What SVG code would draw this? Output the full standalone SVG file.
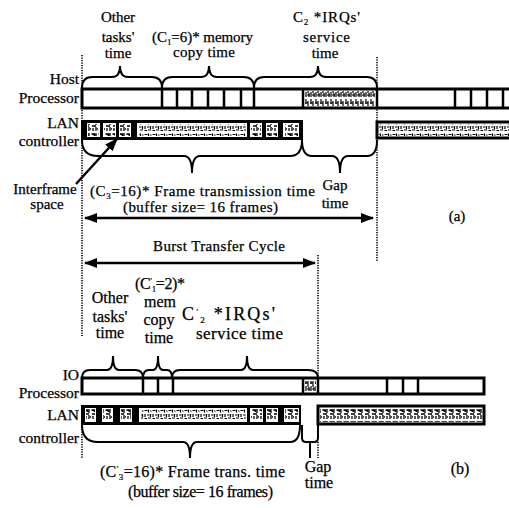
<svg xmlns="http://www.w3.org/2000/svg" width="509" height="508" viewBox="0 0 509 508">
<style>
text{font-family:"Liberation Serif","Times New Roman",serif;font-size:15px;fill:#000;stroke:#000;stroke-width:0.25}
.b{font-size:16px}
.bb{font-size:17px}
.bc{font-size:18px}
.m{text-anchor:middle}
.r{text-anchor:end;font-size:15.5px}
.sub{font-size:9px;stroke-width:0.2}
.bar{fill:#fff;stroke:#000;stroke-width:3}
.blk{fill:#000}
.fr{fill:#fff}
.div{stroke:#000;stroke-width:2.5}
.br{fill:none;stroke:#000;stroke-width:2}
.dot{stroke:#000;stroke-width:1.6;stroke-dasharray:1.2 1.3}
.arr{stroke:#000;stroke-width:2.5}
</style>
<defs>
<pattern id="scr" width="8" height="12" patternUnits="userSpaceOnUse">
<path d="M0.5,2.5h3M4.5,1.5v3M6,3h1.5M1,6v3M3,7h2.5M6.5,6v3M0.5,10.5h2.5M4,10h3" stroke="#000" stroke-width="1.2"/>
</pattern>
<pattern id="scr2" width="7" height="12" patternUnits="userSpaceOnUse">
<path d="M0.5,2h3v2M5,1v4M1,6h4M2,8v3M5,7v4M6,9h1" stroke="#000" stroke-width="1.3"/>
</pattern>
<pattern id="irq" width="5" height="14" patternUnits="userSpaceOnUse">
<path d="M1,1v5M3,3v6M1,8v5M4,9v4M0,5h3M2,11h3" stroke="#000" stroke-width="1.2"/>
</pattern>
<marker id="ah" markerWidth="13" markerHeight="10" refX="12" refY="5" orient="auto" markerUnits="userSpaceOnUse">
<path d="M0,0L13,5L0,10z" fill="#000"/>
</marker>
<marker id="ahs" markerWidth="13" markerHeight="10" refX="12" refY="5" orient="auto-start-reverse" markerUnits="userSpaceOnUse">
<path d="M0,0L13,5L0,10z" fill="#000"/>
</marker>
</defs>

<!-- Part (a) -->
<g id="labels-a">
<text x="118" y="22" class="m">Other</text>
<text x="118" y="42" class="m">tasks'</text>
<text x="118" y="58" class="m">time</text>
<text x="152" y="42" textLength="101" lengthAdjust="spacing">(C<tspan class="sub" dy="3">1</tspan><tspan dy="-3">=6)* memory</tspan></text>
<text x="173" y="57" textLength="62" lengthAdjust="spacing">copy time</text>
<text x="293" y="22" textLength="67" lengthAdjust="spacing">C<tspan class="sub" dy="3">2</tspan><tspan dy="-3"> *IRQs'</tspan></text>
<text x="303" y="42" textLength="47" lengthAdjust="spacing">service</text>
<text x="325" y="58" class="m">time</text>
<text x="79" y="84" class="r">Host</text>
<text x="79" y="103" class="r">Processor</text>
<text x="79" y="128" class="r">LAN</text>
<text x="79" y="146" class="r">controller</text>
<text x="45" y="194" class="m">Interframe</text>
<text x="47" y="209" class="m">space</text>
<text x="90" y="196" textLength="225" lengthAdjust="spacing">(C<tspan class="sub" dy="3">3</tspan><tspan dy="-3">=16)* Frame transmission time</tspan></text>
<text x="335" y="190" class="m">Gap</text>
<text x="335" y="208" class="m">time</text>
<text x="123" y="212" textLength="155" lengthAdjust="spacing">(buffer size= 16 frames)</text>
<text x="457" y="221" class="m">(a)</text>
<text x="153" y="251" textLength="132" lengthAdjust="spacing">Burst Transfer Cycle</text>
</g>

<g id="host-a">
<rect class="bar" x="82" y="89" width="430" height="19"/>
<rect x="305" y="91" width="70" height="15" fill="url(#irq)"/>
<path class="div" d="M162,89v19M177,89v19M192,89v19M208,89v19M224,89v19M241,89v19M254,89v19M303,89v19M377,89v19M455,89v19M471,89v19M487,89v19M503,89v19"/>
</g>

<g id="lan-a">
<rect class="blk" x="81" y="120" width="222" height="20"/>
<rect class="fr" x="87" y="123" width="13" height="14"/>
<rect class="fr" x="103" y="123" width="13" height="14"/>
<rect class="fr" x="119" y="123" width="12" height="14"/>
<rect class="fr" x="137" y="123" width="110" height="14"/>
<rect class="fr" x="250" y="123" width="12" height="14"/>
<rect class="fr" x="266" y="123" width="12" height="14"/>
<rect class="fr" x="283" y="123" width="16" height="14"/>
<rect x="88" y="124" width="11" height="12" fill="url(#scr2)"/>
<rect x="104" y="124" width="11" height="12" fill="url(#scr2)"/>
<rect x="120" y="124" width="10" height="12" fill="url(#scr2)"/>
<rect x="139" y="124" width="107" height="12" fill="url(#scr)"/>
<rect x="251" y="124" width="10" height="12" fill="url(#scr2)"/>
<rect x="267" y="124" width="10" height="12" fill="url(#scr2)"/>
<rect x="285" y="124" width="13" height="12" fill="url(#scr2)"/>
</g>

<g id="lan-a2">
<rect class="bar" x="377" y="122" width="135" height="16"/>
<rect x="379" y="124" width="130" height="12" fill="url(#scr)"/>
</g>

<!-- Part (b) -->
<g id="labels-b">
<text x="160" y="289" class="m b" textLength="50" lengthAdjust="spacing">(C<tspan class="sub" dy="-5">′</tspan><tspan class="sub" dy="8">1</tspan><tspan dy="-3">=2)*</tspan></text>
<text x="160" y="307" class="m b">mem</text>
<text x="159" y="325" class="m b">copy</text>
<text x="159" y="343" class="m b">time</text>
<text x="110" y="303" class="m b">Other</text>
<text x="110" y="322" class="m b">tasks'</text>
<text x="110" y="338" class="m b">time</text>
<text x="182" y="320" class="bc" textLength="93" lengthAdjust="spacing">C<tspan class="sub" dy="-5">′</tspan><tspan class="sub" dy="8">2</tspan><tspan dy="-3"> *IRQs'</tspan></text>
<text x="196" y="339" class="bb" textLength="87" lengthAdjust="spacing">service time</text>
<text x="79" y="380" class="r">IO</text>
<text x="79" y="398" class="r">Processor</text>
<text x="79" y="420" class="r">LAN</text>
<text x="79" y="443" class="r">controller</text>
<text x="100" y="477" class="b" textLength="185" lengthAdjust="spacing">(C<tspan class="sub" dy="-5">′</tspan><tspan class="sub" dy="8">3</tspan><tspan dy="-3">=16)* Frame trans. time</tspan></text>
<text x="128" y="497" class="b" textLength="145" lengthAdjust="spacing">(buffer size= 16 frames)</text>
<text x="318" y="472" class="m b">Gap</text>
<text x="319" y="488" class="m b">time</text>
<text x="460" y="474" class="m b">(b)</text>
</g>

<g id="io-b">
<rect class="bar" x="82" y="378" width="402" height="16"/>
<rect x="305" y="381" width="11" height="10" fill="url(#irq)"/>
<path class="div" d="M143,378v16M158,378v16M173,378v16M303,378v16M318,378v16M387,378v16M403,378v16M418,378v16"/>
</g>

<g id="lan-b">
<rect class="blk" x="81" y="405" width="220" height="20"/>
<rect class="fr" x="85" y="408" width="11" height="14"/>
<rect class="fr" x="102" y="408" width="11" height="14"/>
<rect class="fr" x="120" y="408" width="12" height="14"/>
<rect class="fr" x="139" y="408" width="108" height="14"/>
<rect class="fr" x="250" y="408" width="13" height="14"/>
<rect class="fr" x="266" y="408" width="12" height="14"/>
<rect class="fr" x="284" y="408" width="15" height="14"/>
<rect x="86" y="409" width="9" height="12" fill="url(#scr2)"/>
<rect x="103" y="409" width="9" height="12" fill="url(#scr2)"/>
<rect x="121" y="409" width="10" height="12" fill="url(#scr2)"/>
<rect x="141" y="409" width="105" height="12" fill="url(#scr)"/>
<rect x="251" y="409" width="11" height="12" fill="url(#scr2)"/>
<rect x="267" y="409" width="10" height="12" fill="url(#scr2)"/>
<rect x="285" y="409" width="13" height="12" fill="url(#scr2)"/>
</g>

<g id="lan-b2">
<rect class="bar" x="318" y="406" width="166" height="18"/>
<rect x="320" y="408" width="162" height="14" fill="url(#scr2)"/>
</g>

<g id="connectors">
<path class="dot" d="M82,55V336M377,57V262M318,255V378M82,424V458M318,442V458"/>
<path class="br" d="M82,88Q82,77 92,77L112,77Q120,77 120,66Q120,77 128,77L152,77Q162,77 162,88"/>
<path class="br" d="M162,88Q162,77 172,77L201,77Q209,77 209,66Q209,77 217,77L244,77Q254,77 254,88"/>
<path class="br" d="M254,88Q254,77 264,77L310,77Q318,77 318,66Q318,77 326,77L367,77Q377,77 377,88"/>
<path class="br" d="M82,140Q82,156 98,156L184,156Q192,156 192,173Q192,156 200,156L290,156Q302,156 302,140"/>
<path class="br" d="M302,140Q302,156 312,156L332,156Q340,156 340,173Q340,156 348,156L367,156Q377,156 377,140"/>
<line class="arr" x1="76" y1="184" x2="117" y2="139" marker-end="url(#ah)"/>
<line class="arr" x1="85" y1="218" x2="373" y2="218" marker-start="url(#ahs)" marker-end="url(#ah)"/>
<line class="arr" x1="85" y1="263" x2="315" y2="263" marker-start="url(#ahs)" marker-end="url(#ah)"/>
<path class="br" d="M82,378Q82,370 90,370L107,370Q113,370 113,356Q113,370 119,370L135,370Q143,370 143,378"/>
<path class="br" d="M143,378Q143,370 149,370L153,370Q158,370 158,356Q158,370 163,370L167,370Q172,370 172,378"/>
<path class="br" d="M172,378Q172,370 180,370L241,370Q247,370 247,356Q247,370 253,370L308,370Q318,370 318,378"/>
<path class="br" d="M82,425Q82,442 98,442L183,442Q190,442 190,458Q190,442 197,442L290,442Q300,442 300,425"/>
<path class="br" d="M302,425V438Q302,442 306,442L314,442Q318,442 318,438V425M310,442V458"/>
</g>
</svg>
